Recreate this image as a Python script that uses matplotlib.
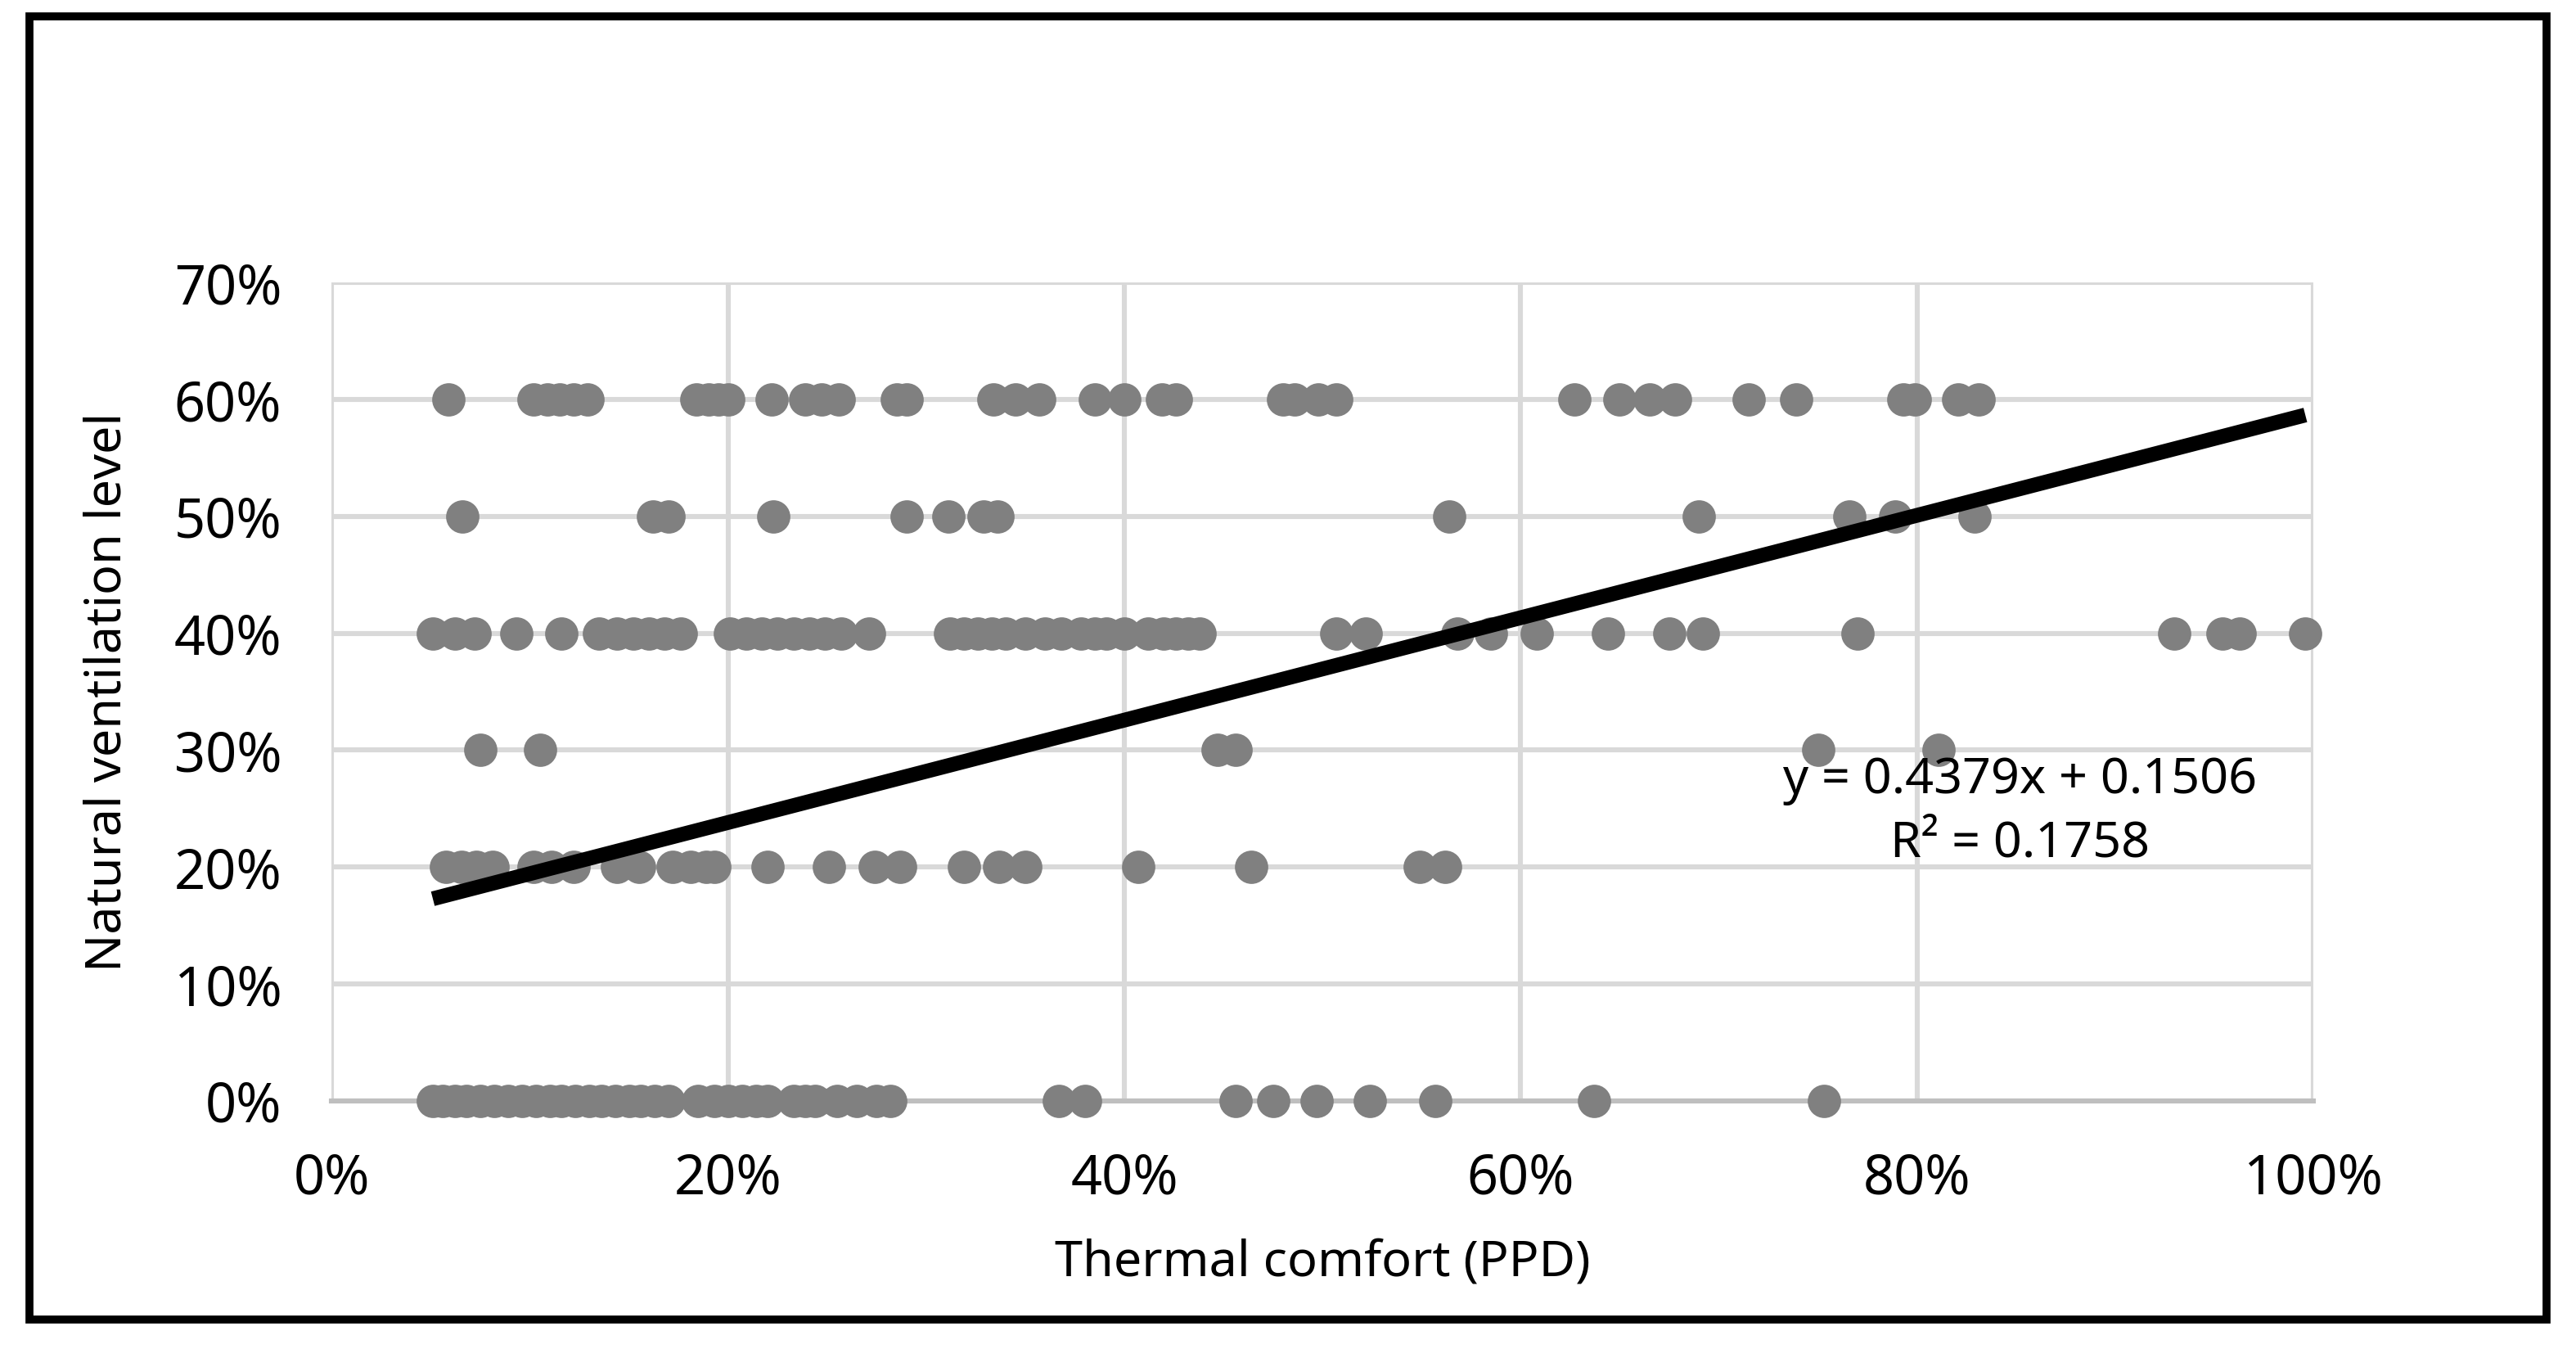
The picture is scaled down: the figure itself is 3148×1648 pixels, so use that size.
import numpy as np
import matplotlib
matplotlib.use("Agg")
from matplotlib import pyplot as plt
from matplotlib.patches import Rectangle
from matplotlib.ticker import PercentFormatter, MultipleLocator

plt.rcParams['font.family'] = ['Noto Sans', 'DejaVu Sans']

# PPD (%) for each ventilation level
ppd_60 = [5.9, 10.2, 10.9, 11.5, 12.2, 12.9, 18.4, 19.0, 19.5, 20.0, 22.2, 23.9, 24.7, 25.6,
          28.5, 29.0, 33.4, 34.5, 35.7, 38.5, 40.0, 41.9, 42.6, 48.0, 48.6, 49.8, 50.7,
          62.7, 65.0, 66.5, 67.8, 71.5, 73.9, 79.3, 79.9, 82.1, 83.1]
ppd_50 = [6.6, 16.2, 17.0, 22.3, 29.0, 31.1, 32.9, 33.6, 56.4, 69.0, 76.6, 78.9, 82.9]
ppd_40 = [5.1, 6.2, 7.2, 9.3, 11.6, 13.5, 14.4, 15.2, 16.0, 16.8, 17.6,
          20.1, 20.9, 21.7, 22.5, 23.3, 24.1, 24.9, 25.7, 27.1,
          31.2, 31.9, 32.6, 33.3, 34.0, 35.0, 36.0, 36.8, 37.8, 38.5, 39.1, 40.0,
          41.2, 42.0, 42.6, 43.2, 43.8, 50.7, 52.2, 56.8, 58.5, 60.8, 64.4, 67.5,
          69.2, 77.0, 93.0, 95.4, 96.3, 99.6]
ppd_30 = [7.5, 10.5, 44.7, 45.6, 75.0, 81.1]
ppd_20 = [5.75, 6.55, 7.3, 8.1, 10.2, 11.1, 12.2, 14.4, 15.5, 17.2, 18.1, 18.9, 19.3,
          22.0, 25.1, 27.4, 28.7, 31.9, 33.7, 35.0, 40.7, 46.4, 54.9, 56.2]
ppd_0 = [5.1, 5.6, 6.2, 6.8, 7.5, 8.2, 8.9, 9.6, 10.3, 11.0, 11.6, 12.3, 13.0, 13.6,
         14.3, 15.0, 15.6, 16.3, 17.0, 18.5, 19.3, 20.0, 20.7, 21.4, 22.0, 23.3, 23.9,
         24.4, 25.5, 26.5, 27.5, 28.2, 36.7, 38.0, 45.6, 47.5, 49.7, 52.4, 55.7, 63.7, 75.3]

levels = [60, 50, 40, 30, 20, 0]
groups = [ppd_60, ppd_50, ppd_40, ppd_30, ppd_20, ppd_0]

# trendline from the chart
slope, intercept = 0.4379, 0.1506

x = []
y = []
for lv, g in zip(levels, groups):
    x += [v / 100 for v in g]
    y += [lv / 100] * len(g)
x = np.array(x)
y = np.array(y)

fig = plt.figure(figsize=(15.74, 8.24), dpi=200)
ax = fig.add_axes([0.1288, 0.1839, 0.898 - 0.1288, 0.7905 - 0.1839])

ax.scatter(x, y, s=215, color='#808080', linewidths=0, zorder=3, clip_on=False)

xt = np.array([x.min(), x.max()])
ax.plot(xt, slope * xt + intercept, color='black', lw=6.5, zorder=4, solid_capstyle='butt')

ax.set_xlim(0, 1)
ax.set_ylim(0, 0.7)
ax.xaxis.set_major_locator(MultipleLocator(0.2))
ax.yaxis.set_major_locator(MultipleLocator(0.1))
ax.xaxis.set_major_formatter(PercentFormatter(1.0, decimals=0))
ax.yaxis.set_major_formatter(PercentFormatter(1.0, decimals=0))
ax.grid(True, color='#D9D9D9', lw=2.2, zorder=0)
ax.set_axisbelow(True)
for side in ['top', 'right', 'left']:
    ax.spines[side].set_visible(False)
ax.spines['bottom'].set_color('#BFBFBF')
ax.spines['bottom'].set_linewidth(2.2)
ax.tick_params(length=0, labelsize=24, pad=22)

ax.set_xlabel('Thermal comfort (PPD)', fontsize=22, labelpad=14)
ax.set_ylabel('Natural ventilation level', fontsize=22, labelpad=18)

ax.text(0.852, 0.247, 'y = 0.4379x + 0.1506\nR² = 0.1758', ha='center', va='center',
        multialignment='center', fontsize=22, linespacing=1.35)

fig.patches.append(Rectangle((0.0115, 0.0219), 0.977, 0.9659, transform=fig.transFigure,
                             fill=False, edgecolor='black', lw=3.5))

fig.savefig('out.png', dpi=200)
